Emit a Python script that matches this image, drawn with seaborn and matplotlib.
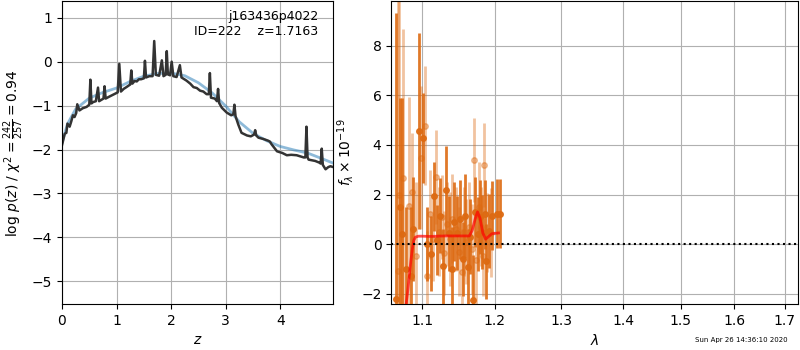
import numpy as np
import pandas as pd
import matplotlib
matplotlib.use('Agg')
import matplotlib.pyplot as plt
import seaborn as sns
from matplotlib.ticker import NullLocator

# p(z) - raw chi2 curve (z, log p)
z_raw = [0.00, 0.05, 0.08, 0.10, 0.14, 0.17, 0.20, 0.23, 0.26, 0.28, 0.32, 0.38, 0.45, 0.50, 0.52, 0.54,
         0.57, 0.62, 0.66, 0.68, 0.72, 0.76, 0.78, 0.80, 0.86, 0.94, 1.02, 1.05, 1.08, 1.13, 1.18, 1.25,
         1.27, 1.29, 1.33, 1.37, 1.41, 1.45, 1.50, 1.52, 1.54, 1.60, 1.66, 1.69, 1.72, 1.78, 1.83, 1.86, 1.90,
         1.92, 1.94, 1.98, 2.01, 2.04, 2.10, 2.16, 2.19, 2.28, 2.35, 2.41, 2.47, 2.53, 2.59, 2.65, 2.69, 2.71, 2.73,
         2.80, 2.84, 2.86, 2.88, 2.93, 3.02, 3.10, 3.14, 3.16, 3.18, 3.23, 3.29, 3.39, 3.46, 3.52,
         3.54, 3.56, 3.60, 3.69, 3.78, 3.81, 3.84, 3.94, 4.04, 4.12, 4.20, 4.30, 4.43, 4.46, 4.48,
         4.50, 4.52, 4.64, 4.72, 4.74, 4.76, 4.78, 4.83, 4.88, 4.92, 4.97]
lnp_raw = [-1.90, -1.64, -1.62, -1.41, -1.48, -1.36, -1.22, -1.26, -1.17, -0.97, -1.11, -1.06, -1.03, -0.98, -0.41, -0.95,
           -0.92, -0.90, -0.59, -0.90, -0.87, -0.84, -0.56, -0.84, -0.80, -0.75, -0.70, -0.05, -0.68, -0.62, -0.58, -0.52,
           -0.20, -0.50, -0.44, -0.45, -0.40, -0.40, -0.38, 0.02, -0.36, -0.33, -0.33, 0.47, -0.30, -0.32, 0.03, -0.33, -0.30,
           0.24, -0.29, -0.31, 0.00, -0.33, -0.35, -0.08, -0.36, -0.43, -0.50, -0.58, -0.60, -0.66, -0.68, -0.74, -0.74, -0.26, -0.82,
           -0.84, -0.90, -0.62, -0.94, -1.05, -1.16, -1.22, -1.20, -0.98, -1.24, -1.43, -1.62, -1.68, -1.70, -1.66,
           -1.56, -1.68, -1.73, -1.76, -1.80, -1.82, -1.88, -2.04, -2.08, -2.13, -2.12, -2.13, -2.18, -2.18, -1.48,
           -2.18, -2.23, -2.26, -2.30, -2.32, -1.98, -2.35, -2.45, -2.40, -2.38, -2.40]

# smoothed p(z)
z_smooth = [0.00, 0.10, 0.25, 0.50, 0.75, 1.00, 1.25, 1.50, 1.75, 2.00, 2.25, 2.50, 2.75, 3.00, 3.25, 3.50,
            3.75, 4.00, 4.25, 4.50, 4.75, 4.97]
lnp_smooth = [-1.85, -1.42, -1.08, -0.83, -0.70, -0.60, -0.45, -0.33, -0.27, -0.26, -0.32, -0.48, -0.71, -1.01,
              -1.37, -1.63, -1.80, -1.93, -2.01, -2.08, -2.20, -2.31]

# spectrum, first beam (dark)
wave_a = [1.0665, 1.0715, 1.0736, 1.0790, 1.0852, 1.0884, 1.0958, 1.1014, 1.1060, 1.1116, 1.1162, 1.1199,
          1.1240, 1.1280, 1.1315, 1.1361, 1.1400, 1.1430, 1.1468, 1.1510, 1.1545, 1.1579, 1.1616, 1.1650,
          1.1694, 1.1722, 1.1760, 1.1790, 1.1824, 1.1860, 1.1880, 1.1917, 1.1960, 1.2032, 1.2070]
flux_a = [-2.2, 1.5, 0.4, -1.0, -1.3, 0.6, 4.55, 4.28, 0.0, -0.38, 1.93, 0.16,
          1.15, -0.9, 2.17, 0.43, -1.0, 0.9, 0.46, 1.0, -0.6, 1.13, -0.91, 0.3,
          -2.25, 1.30, 0.4, 1.1, 0.5, 1.2, -0.7, 0.52, 1.15, 1.23, 1.23]
err_a = [11.5, 4.4, 5.5, 2.5, 2.8, 2.1, 3.95, 1.8, 1.5, 1.5, 1.4, 1.4,
         1.5, 1.5, 1.8, 1.5, 1.7, 1.6, 1.5, 1.6, 1.5, 1.7, 1.5, 1.5,
         1.8, 1.4, 1.5, 1.5, 1.5, 1.4, 1.5, 1.5, 1.4, 1.4, 1.4]

# spectrum, second beam (light)
wave_b = [1.0680, 1.0700, 1.0745, 1.0829, 1.0870, 1.0921, 1.0986, 1.1032, 1.1060, 1.1100, 1.1140, 1.1180,
          1.1220, 1.1260, 1.1292, 1.1330, 1.1370, 1.1407, 1.1450, 1.1490, 1.1532, 1.1560, 1.1600, 1.1640,
          1.1680, 1.1708, 1.1740, 1.1780, 1.1810, 1.1838, 1.1847, 1.1890, 1.1940]
flux_b = [-1.09, 2.0, 2.68, 1.53, 2.1, -0.48, 3.49, 4.78, -1.28, 1.2, 0.2, 2.71,
          0.5, 1.1, -0.35, 0.8, 0.2, 1.03, 0.6, -0.3, -1.11, 0.5, 0.1, 0.7,
          -0.2, 3.38, -0.64, 1.5, 0.7, -0.48, 3.18, 0.46, 0.46]
err_b = [11.0, 9.0, 6.0, 4.4, 2.4, 3.0, 2.9, 2.4, 1.8, 1.8, 1.7, 1.9,
         1.8, 1.7, 1.7, 1.7, 1.9, 1.8, 1.7, 1.8, 1.7, 1.8, 1.7, 1.8,
         1.8, 1.7, 1.8, 1.8, 1.6, 1.6, 1.7, 1.6, 1.8]

# best-fit model
wave_model = [1.0790, 1.0810, 1.0830, 1.0850, 1.0870, 1.0890, 1.0910, 1.0950, 1.1000, 1.1100, 1.1300,
              1.1500, 1.1640, 1.1680, 1.1720, 1.1755, 1.1790, 1.1830, 1.1870, 1.1910, 1.1960, 1.2055]
flux_model = [-2.42, -1.9, -1.3, -0.7, -0.2, 0.15, 0.28, 0.32, 0.32, 0.31, 0.33,
              0.33, 0.33, 0.55, 1.0, 1.3, 1.05, 0.45, 0.2, 0.3, 0.42, 0.45]

df_z = pd.DataFrame({'z': z_raw, 'lnp': lnp_raw})
df_zs = pd.DataFrame({'z': z_smooth, 'lnp': lnp_smooth})
df_m = pd.DataFrame({'wave': wave_model, 'flux': flux_model})

fig = plt.figure(figsize=(8, 3.5), dpi=100)
ax1 = fig.add_axes([0.0775, 0.131, 0.339, 0.866])
ax2 = fig.add_axes([0.489, 0.131, 0.5085, 0.866])

# ---- p(z) panel
sns.lineplot(data=df_zs, x='z', y='lnp', ax=ax1, color='#1f77b4', alpha=0.5, lw=2, sort=False)
sns.lineplot(data=df_z, x='z', y='lnp', ax=ax1, color='0.2', lw=1.8, sort=False)
ax1.set_xlim(0, 4.97)
ax1.set_ylim(-5.52, 1.38)
ax1.set_yticks([-5, -4, -3, -2, -1, 0, 1])
ax1.set_xticks([0, 1, 2, 3, 4])
ax1.grid(True, color='#b0b0b0', lw=0.8)
ax1.set_axisbelow(True)
ax1.set_xlabel(r'$z$')
ax1.set_ylabel(r'log $p(z)$ / $\chi^2=\frac{242}{257}=0.94$')
ax1.text(0.945, 0.97, 'j163436p4022\nID=222    z=1.7163', transform=ax1.transAxes,
         ha='right', va='top', fontsize=9)

# ---- spectrum panel
ax2.errorbar(wave_b, flux_b, yerr=err_b, fmt='o', color='#dd6a12', alpha=0.4,
             ms=4, elinewidth=2, capsize=0, zorder=2)
ax2.errorbar(wave_a, flux_a, yerr=err_a, fmt='o', color='#dd6a12', alpha=0.9,
             ms=4, elinewidth=2, capsize=0, zorder=3)
sns.lineplot(data=df_m, x='wave', y='flux', ax=ax2, color='red', alpha=0.7, lw=2, sort=False, zorder=4)
ax2.axhline(0, color='k', ls=':', lw=1.5, zorder=5)
ax2.set_xscale('log')
ax2.set_xlim(1.0598, 1.727)
ax2.set_ylim(-2.42, 9.8)
ticks = [1.1, 1.2, 1.3, 1.4, 1.5, 1.6, 1.7]
ax2.set_xticks(ticks)
ax2.set_xticklabels([str(t) for t in ticks])
ax2.xaxis.set_minor_locator(NullLocator())
ax2.set_yticks([-2, 0, 2, 4, 6, 8])
ax2.grid(True, color='#b0b0b0', lw=0.8)
ax2.set_axisbelow(True)
ax2.set_xlabel(r'$\lambda$')
ax2.set_ylabel(r'$f_\lambda \times 10^{-19}$')

fig.text(0.985, 0.02, 'Sun Apr 26 14:36:10 2020', ha='right', va='bottom', fontsize=5)

plt.savefig('out.png', dpi=100)
